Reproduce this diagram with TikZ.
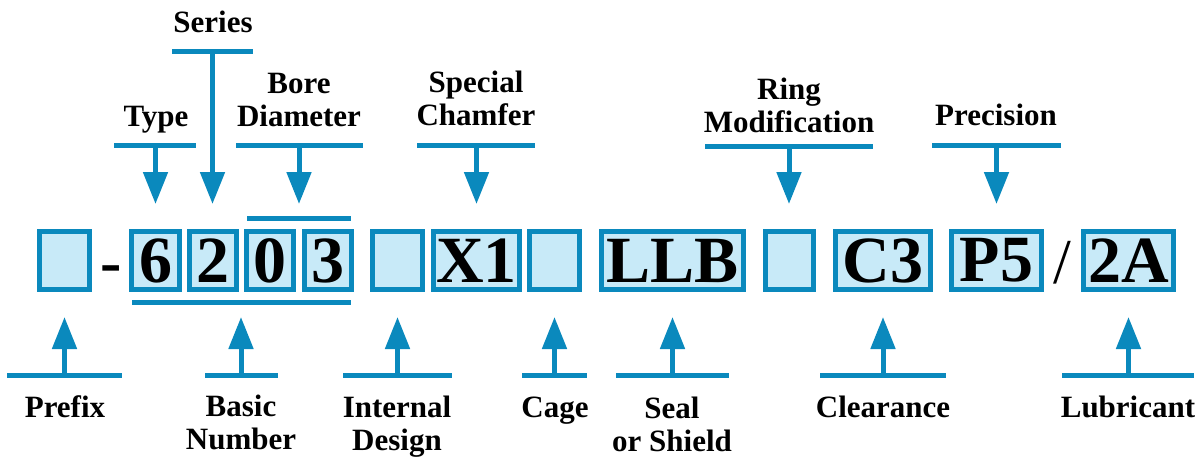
\documentclass[tikz,border=0pt]{standalone}
\usepackage{fontspec}
\setmainfont{Liberation Serif}
\usetikzlibrary{arrows.meta}
\definecolor{bblue}{RGB}{10,137,189}
\definecolor{bfill}{RGB}{200,234,248}
\begin{document}
\begin{tikzpicture}[x=1pt,y=-1pt,
  cbox/.style={draw=bblue,fill=bfill,line width=5pt,inner sep=0pt,minimum height=58pt,
    font=\fontsize{66}{66}\selectfont\bfseries},
  lbl/.style={font=\fontsize{31}{33}\selectfont\bfseries,align=center,inner sep=0pt,anchor=base},
  bar/.style={draw=bblue,line width=5pt},
  arr/.style={draw=bblue,line width=5pt,-{Triangle[width=24pt,length=32pt]}},
  sep/.style={font=\fontsize{64}{64}\selectfont,inner sep=0pt,anchor=base}]
\useasboundingbox (0,0) rectangle (1200,459);
% boxes
\node[cbox,minimum width=50pt] (prefix) at (64.5,260.5) {};
\node[sep,font=\fontsize{64}{64}\selectfont\bfseries] (dash) at (111,283) {-};
\node[cbox,minimum width=48pt] (d6) at (155.5,260.5) {6};
\node[cbox,minimum width=47pt] (d2) at (213,260.5) {2};
\node[cbox,minimum width=47pt] (d0) at (270,260.5) {0};
\node[cbox,minimum width=47pt] (d3) at (328,260.5) {3};
\node[cbox,minimum width=50pt] (intd) at (397.5,260.5) {};
\node[cbox,minimum width=86pt] (x1) at (476.5,260.5) {X1};
\node[cbox,minimum width=50pt] (cage) at (554.5,260.5) {};
\node[cbox,minimum width=142pt] (llb) at (672.5,260.5) {LLB};
\node[cbox,minimum width=48pt] (ring) at (789.5,260.5) {};
\node[cbox,minimum width=95pt] (c3) at (883,260.5) {C3};
\node[cbox,minimum width=90pt] (p5) at (996.5,260.5) {P5};
\node[sep] (slash) at (1062.5,283) {/};
\node[cbox,minimum width=90pt] (a2) at (1128.5,260.5) {2A};
% group bars
\draw[bar] (247,218.5) coordinate (bs) -- (351,218.5) coordinate (be);
\draw[bar] (132,302.5) coordinate (ns) -- (351,302.5) coordinate (ne);
% top labels
\node[lbl] (series) at (213,32) {Series};
\node[lbl] (type) at (156,126) {Type};
\node[lbl] (bore) at (299,126) {Bore\\Diameter};
\node[lbl] (chamfer) at (476,125.5) {Special\\Chamfer};
\node[lbl] (ringl) at (789,132) {Ring\\Modification};
\node[lbl] (prec) at (996,125) {Precision};
% top bars
\draw[bar] (172,51) -- (253,51);
\draw[bar] (114,145.5) -- (196,145.5);
\draw[bar] (236,145.5) -- (363,145.5);
\draw[bar] (417,145.5) -- (535,145.5);
\draw[bar] (705,146) -- (873,146);
\draw[bar] (932,145.5) -- (1061,145.5);
\coordinate (tSeries) at (212.5,51);
\coordinate (tType) at (155.5,145.5);
\coordinate (tBore) at (299,145.5);
\coordinate (tCham) at (476.5,145.5);
\coordinate (tRing) at (789,146);
\coordinate (tPrec) at (996.5,145.5);
\draw[arr] (tSeries) -- (tSeries |- 0,204);
\draw[arr] (tType) -- (tType |- 0,204);
\draw[arr] (tBore) -- (tBore |- 0,204);
\draw[arr] (tCham) -- (tCham |- 0,204);
\draw[arr] (tRing) -- (tRing |- 0,204);
\draw[arr] (tPrec) -- (tPrec |- 0,204);
% bottom bars
\draw[bar] (7,375.5) -- (122,375.5);
\draw[bar] (205,375.5) -- (278,375.5);
\draw[bar] (343,375.5) -- (452,375.5);
\draw[bar] (522,375.5) -- (587,375.5);
\draw[bar] (616,375.5) -- (729,375.5);
\draw[bar] (820,375.5) -- (946,375.5);
\draw[bar] (1062,375.5) -- (1194,375.5);
\coordinate (bPre) at (64.5,375.5);
\coordinate (bNum) at (241,375.5);
\coordinate (bInt) at (397.5,375.5);
\coordinate (bCage) at (554.5,375.5);
\coordinate (bSeal) at (672.5,375.5);
\coordinate (bClr) at (883,375.5);
\coordinate (bLub) at (1128.5,375.5);
\draw[arr] (bPre) -- (bPre |- 0,317);
\draw[arr] (bNum) -- (bNum |- 0,317);
\draw[arr] (bInt) -- (bInt |- 0,317);
\draw[arr] (bCage) -- (bCage |- 0,317);
\draw[arr] (bSeal) -- (bSeal |- 0,317);
\draw[arr] (bClr) -- (bClr |- 0,317);
\draw[arr] (bLub) -- (bLub |- 0,317);
% bottom labels
\node[lbl] (prefixl) at (65,417) {Prefix};
\node[lbl] (basic) at (241,449) {Basic\\Number};
\node[lbl] (internal) at (397,450) {Internal\\Design};
\node[lbl] (cagel) at (555,417) {Cage};
\node[lbl] (seal) at (672,451) {Seal\\or Shield};
\node[lbl] (clear) at (883,417) {Clearance};
\node[lbl] (lub) at (1128,417) {Lubricant};
\end{tikzpicture}
\end{document}
